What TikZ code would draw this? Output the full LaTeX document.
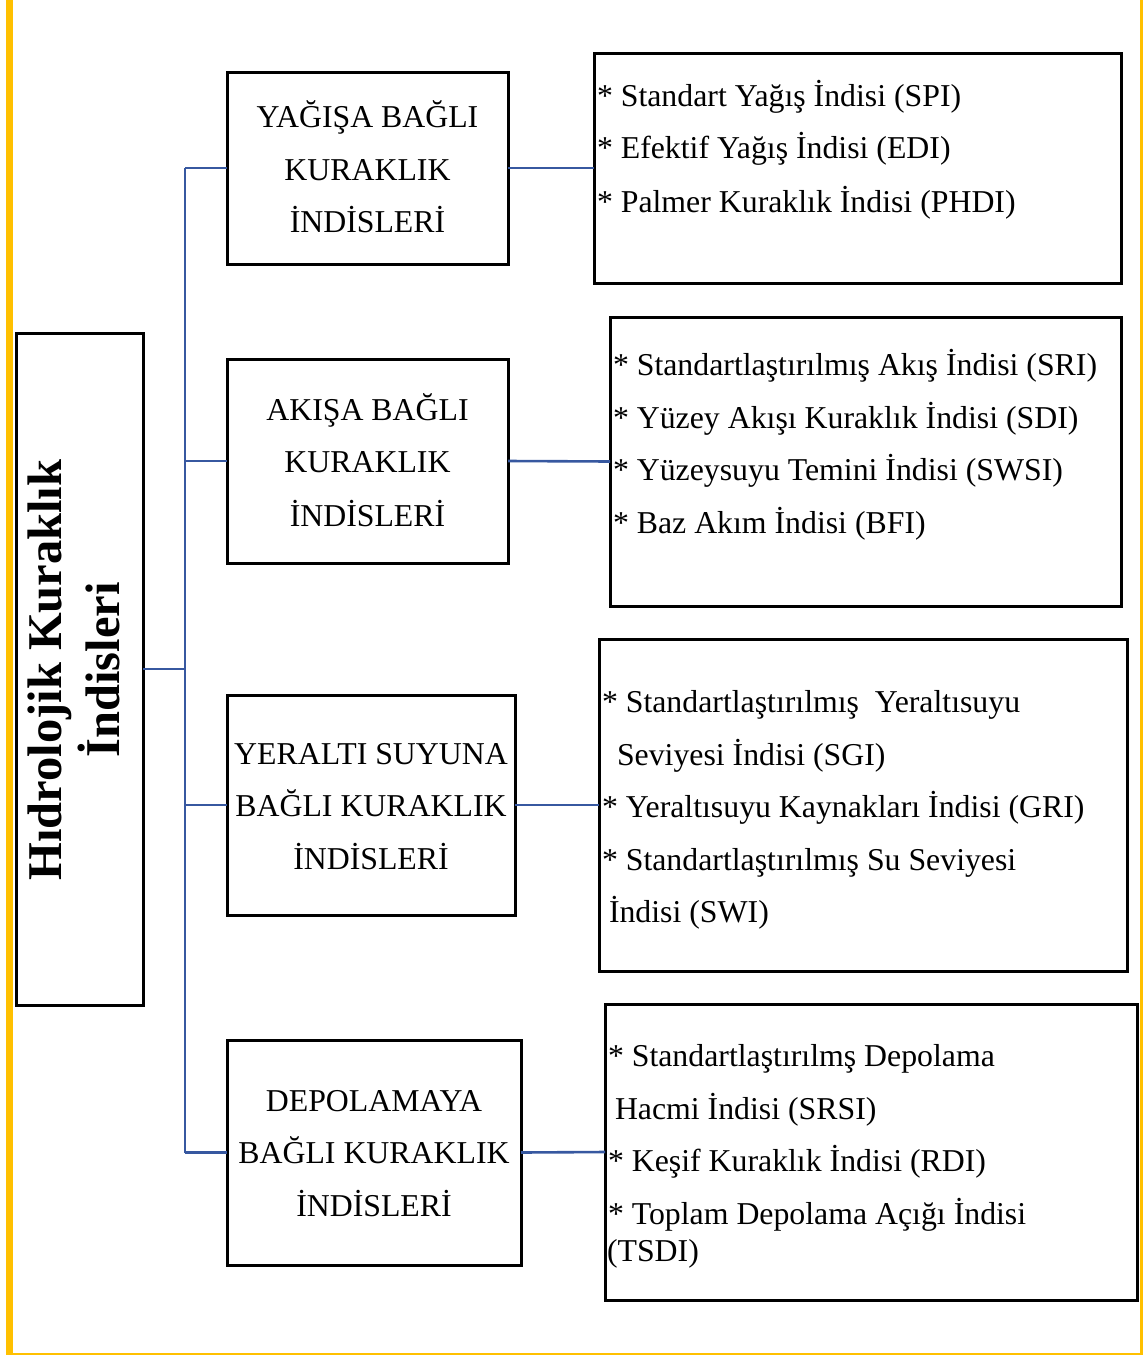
\documentclass[tikz,border=0pt]{standalone}
\usepackage{fontspec}
\setmainfont{Liberation Serif}
\definecolor{linkblue}{RGB}{55,88,160}
\definecolor{frameyellow}{RGB}{255,192,0}
\begin{document}
\begin{tikzpicture}[x=1pt,y=-1pt,
  box/.style={draw=black,line width=3pt,inner sep=0pt,outer sep=0pt},
  conn/.style={draw=linkblue,line width=2.6pt},
  txt/.style={inner sep=0pt,outer sep=0pt,font=\fontsize{31.8}{38}\selectfont},
  ltxt/.style={txt,anchor=base west},
  ctxt/.style={txt,anchor=base},
  ttl/.style={inner sep=0pt,outer sep=0pt,rotate=90,anchor=base,font=\fontsize{48.5}{58}\selectfont\bfseries}]
\useasboundingbox (0,0) rectangle (1146,1355);
% frame
\draw[frameyellow,line width=7pt] (9.5,0) -- (9.5,1355);
\draw[frameyellow,line width=3pt] (1141.5,0) -- (1141.5,1355);
\draw[frameyellow,line width=2pt] (6,1354) -- (1143,1354);
% title box
\node[box,minimum width=127pt,minimum height=672pt] (title) at (79.5,669) {};
\node[ttl] (title1) at (61,670) {Hıdrolojik Kuraklık};
\node[ttl] (title2) at (119,670) {İndisleri};
% category boxes
\node[box,minimum width=281pt,minimum height=192pt] (b1) at (367.5,168) {};
\node[box,minimum width=281pt,minimum height=204pt] (b2) at (367.5,461) {};
\node[box,minimum width=288pt,minimum height=220pt] (b3) at (371,805) {};
\node[box,minimum width=294pt,minimum height=225pt] (b4) at (374,1152.5) {};
\node[ctxt] (b1a) at (367.5,127) {YAĞIŞA BAĞLI};
\node[ctxt] (b1b) at (367.5,180) {KURAKLIK};
\node[ctxt] (b1c) at (367.5,232) {İNDİSLERİ};
\node[ctxt] (b2a) at (367.5,420) {AKIŞA BAĞLI};
\node[ctxt] (b2b) at (367.5,472) {KURAKLIK};
\node[ctxt] (b2c) at (367.5,526) {İNDİSLERİ};
\node[ctxt] (b3a) at (371,764) {YERALTI SUYUNA};
\node[ctxt] (b3b) at (371,816) {BAĞLI KURAKLIK};
\node[ctxt] (b3c) at (371,869) {İNDİSLERİ};
\node[ctxt] (b4a) at (374,1111) {DEPOLAMAYA};
\node[ctxt] (b4b) at (374,1163) {BAĞLI KURAKLIK};
\node[ctxt] (b4c) at (374,1216) {İNDİSLERİ};
% index boxes
\node[box,minimum width=527pt,minimum height=230pt] (r1) at (857.5,168) {};
\node[box,minimum width=511pt,minimum height=289pt] (r2) at (865.5,461.5) {};
\node[box,minimum width=528pt,minimum height=332pt] (r3) at (863,805) {};
\node[box,minimum width=532pt,minimum height=296pt] (r4) at (871,1152) {};
\node[ltxt] (r1a) at (597,106) {* Standart Yağış İndisi (SPI)};
\node[ltxt] (r1b) at (597,158) {* Efektif Yağış İndisi (EDI)};
\node[ltxt] (r1c) at (597,212) {* Palmer Kuraklık İndisi (PHDI)};
\node[ltxt] (r2a) at (613,375) {* Standartlaştırılmış Akış İndisi (SRI)};
\node[ltxt] (r2b) at (613,428) {* Yüzey Akışı Kuraklık İndisi (SDI)};
\node[ltxt] (r2c) at (613,480) {* Yüzeysuyu Temini İndisi (SWSI)};
\node[ltxt] (r2d) at (613,533) {* Baz Akım İndisi (BFI)};
\node[ltxt] (r3a) at (602,712) {* Standartlaştırılmış\ \ Yeraltısuyu};
\node[ltxt] (r3b) at (617,765) {Seviyesi İndisi (SGI)};
\node[ltxt] (r3c) at (602,817) {* Yeraltısuyu Kaynakları İndisi (GRI)};
\node[ltxt] (r3d) at (602,870) {* Standartlaştırılmış Su Seviyesi};
\node[ltxt] (r3e) at (609,922) {İndisi (SWI)};
\node[ltxt] (r4a) at (608,1066) {* Standartlaştırılmş Depolama};
\node[ltxt] (r4b) at (615,1119) {Hacmi İndisi (SRSI)};
\node[ltxt] (r4c) at (608,1171) {* Keşif Kuraklık İndisi (RDI)};
\node[ltxt] (r4d) at (608,1224) {* Toplam Depolama Açığı İndisi};
\node[ltxt] (r4e) at (607,1261) {(TSDI)};
% connectors
\coordinate (trunk) at (185,669);
\draw[conn] (b1.west -| trunk) -- (b4.west -| trunk);
\draw[conn] (title.east) -- (title.east -| trunk);
\draw[conn] (b1.west -| trunk) -- (b1.west);
\draw[conn] (b2.west -| trunk) -- (b2.west);
\draw[conn] (b3.west -| trunk) -- (b3.west);
\draw[conn] (b4.west -| trunk) -- (b4.west);
\draw[conn] (b1.east) -- (r1.west);
\draw[conn] (b2.east) -- (r2.west);
\draw[conn] (b3.east) -- (r3.west);
\draw[conn] (b4.east) -- (r4.west);
\end{tikzpicture}
\end{document}
